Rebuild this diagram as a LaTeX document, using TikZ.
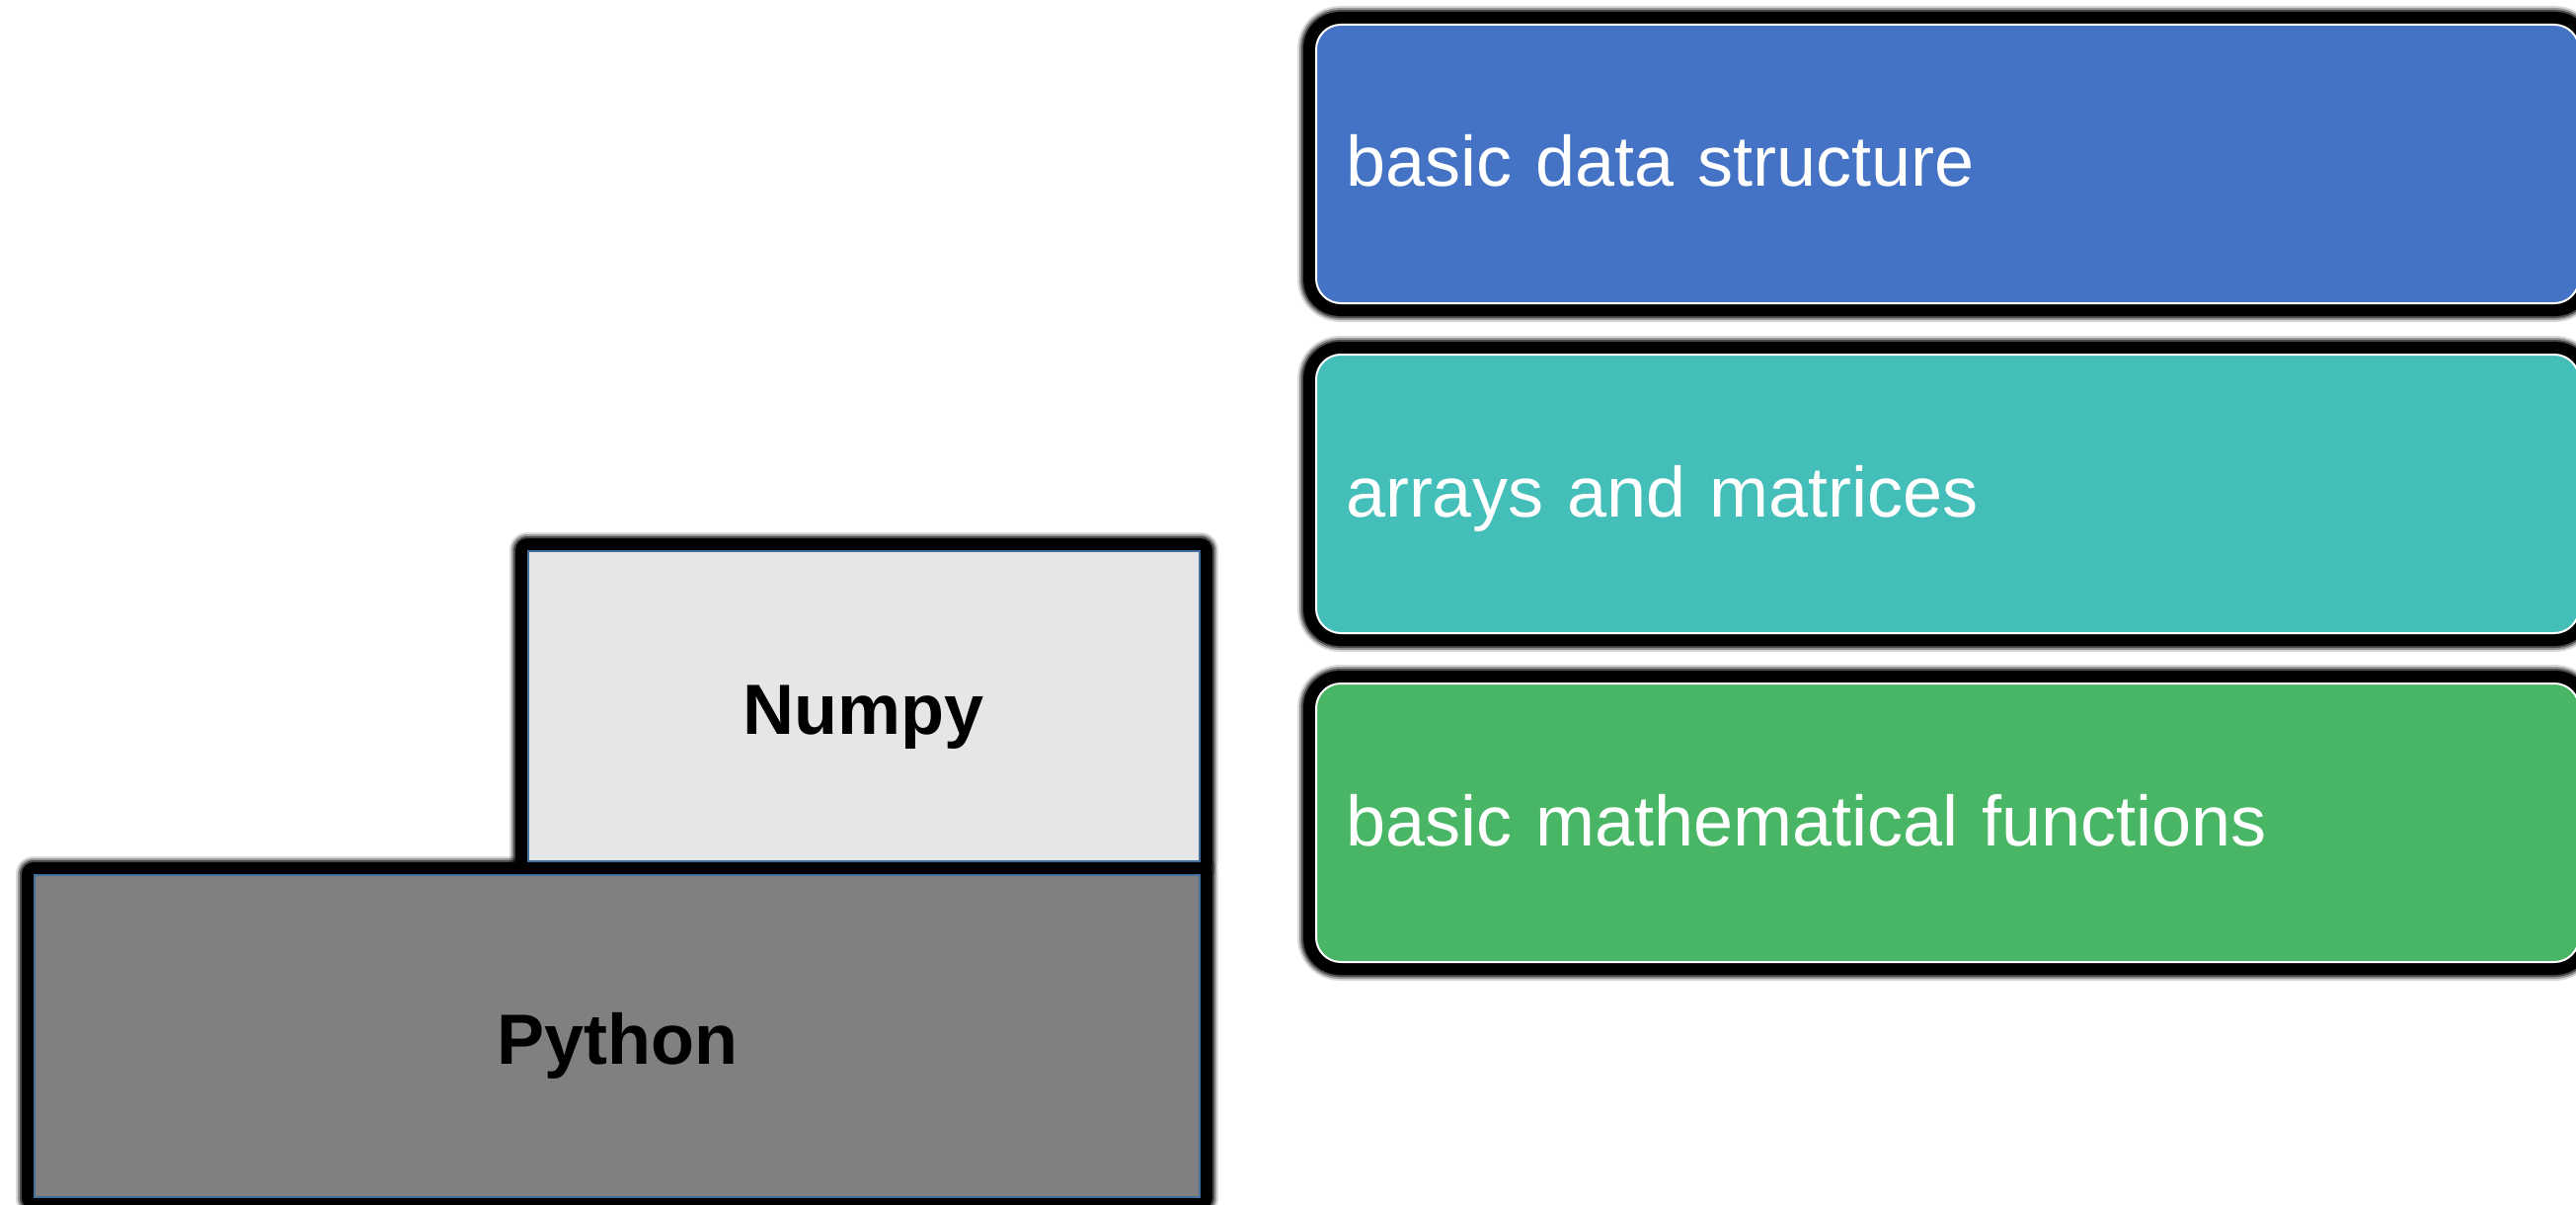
\documentclass[tikz,border=0pt]{standalone}
\usepackage{fontspec}
\setmainfont{Liberation Sans}
\usetikzlibrary{backgrounds}

\definecolor{topicblue}{HTML}{4472C4}
\definecolor{topicteal}{HTML}{43BEB8}
\definecolor{topicgreen}{HTML}{48B664}
\definecolor{numpygrey}{HTML}{E6E6E6}
\definecolor{pythongrey}{HTML}{808080}
\definecolor{edgeblue}{HTML}{41719C}

% soft black halo behind a node: #1 = node name, #2 = corner radius
\newcommand\halobehind[2]{%
  \foreach \w/\o in {36/0.15,32/0.3,28/0.5,24/1}{%
    \draw[black, line width=\w*0.5pt, draw opacity=\o, line join=round,
          rounded corners=#2] (#1.north west) rectangle (#1.south east);}%
}

\begin{document}
\begin{tikzpicture}[x=0.5pt,y=-0.5pt,
  layerbox/.style={draw=edgeblue, line width=1pt, anchor=north west,
    font=\bfseries\fontsize{36}{43}\selectfont, text=black,
    text height=28pt, text depth=0pt, inner sep=0pt},
  topicbox/.style={draw=white, line width=1pt, rounded corners=12.5pt,
    anchor=north west, text=white, font=\fontsize{36}{43}\selectfont,
    text height=23pt, text depth=0pt, inner xsep=15pt, inner ysep=0pt,
    text width=609.5pt, align=left,
    minimum width=639.5pt, minimum height=141pt}]
\useasboundingbox (0,0) rectangle (2609,1220);

% the stack: Python at the bottom, Numpy on top of it
\node[layerbox, fill=numpygrey, minimum width=340pt, minimum height=157pt]
  (numpy) at (534,557) {Numpy};
\node[layerbox, fill=pythongrey, minimum width=590pt, minimum height=163pt]
  (python) at (34,885) {Python};

% what Numpy provides
\node[topicbox, fill=topicblue]  (datastruct) at (1332,24)  {basic data structure};
\node[topicbox, fill=topicteal]  (arrays)     at (1332,358) {arrays and matrices};
\node[topicbox, fill=topicgreen] (mathfuncs)  at (1332,691) {basic mathematical functions};

\begin{scope}[on background layer]
  \fill[white] (0,0) rectangle (2609,1220);
  \halobehind{numpy}{0pt}
  \halobehind{python}{0pt}
  \halobehind{datastruct}{12.5pt}
  \halobehind{arrays}{12.5pt}
  \halobehind{mathfuncs}{12.5pt}
\end{scope}
\end{tikzpicture}
\end{document}
